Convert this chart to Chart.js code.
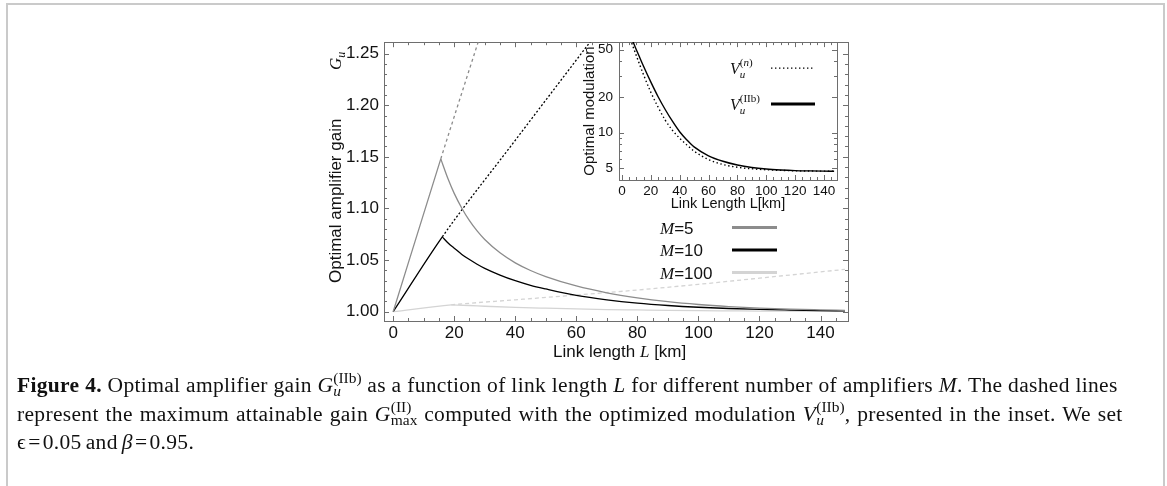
<!DOCTYPE html>
<html>
<head>
<meta charset="utf-8">
<script src="https://cdn.jsdelivr.net/npm/chart.js@4.4.0/dist/chart.umd.min.js"></script>
<style>
  html, body { margin: 0; padding: 0; background: #fff; }
  body { width: 1167px; height: 486px; position: relative; overflow: hidden; }
  #page { position: absolute; left: 6px; top: 3px; width: 1155px; height: 500px;
          border: 2px solid #cacaca; border-bottom: none; }
  #main { position: absolute; left: 300px; top: 27px; }
  #inset { position: absolute; left: 556px; top: 28px; }
  #caption { position: absolute; left: 17px; top: 371px; font-family: "Liberation Serif", serif;
             font-size: 20px; line-height: 28.5px; white-space: nowrap; color: #111;
             letter-spacing: 0.3px; transform: scaleX(1.075); transform-origin: 0 0; }
  #caption .l1 { word-spacing: 0px; }
  #caption .l2 { word-spacing: 1.1px; }
  #caption .l3 { word-spacing: -1.5px; }
  .ss { display: inline-grid; line-height: 1; letter-spacing: 0; }
  .ss > span { grid-area: 1 / 1; font-size: 0.72em; position: relative; }
  .ss .up { top: -0.6em; }
  .ss .dn { top: 0.3em; }
</style>
</head>
<body>
<div id="page"></div>
<canvas id="main" width="560" height="348"></canvas>
<canvas id="inset" width="290" height="188"></canvas>
<div id="caption">
<span class="l1"><b>Figure 4.</b> Optimal amplifier gain <i>G</i><span class="ss"><span class="up">(IIb)</span><span class="dn"><i>u</i></span></span> as a function of link length <i>L</i> for different number of amplifiers <i>M</i>. The dashed lines</span><br>
<span class="l2">represent the maximum attainable gain <i>G</i><span class="ss"><span class="up">(II)</span><span class="dn">max</span></span> computed with the optimized modulation <i>V</i><span class="ss"><span class="up">(IIb)</span><span class="dn"><i>u</i></span></span>, presented in the inset. We set</span><br>
<span class="l3">&#x03F5;&#8202;=&#8202;0.05 and <i>&beta;</i>&#8202;=&#8202;0.95.</span>
</div>
<script>
// maximum attainable gain (dashed), km -> gain
const maxLenM5 = [0, 15.6, 30];
const maxGainM5 = [1.0, 1.148, 1.281];
const maxLenM10 = [0, 16.1, 40, 66];
const maxGainM10 = [1.0, 1.0725, 1.166, 1.267];
const maxLenM100 = [0, 19, 40, 60, 80, 100, 120, 148];
const maxGainM100 = [1.0, 1.0066, 1.0115, 1.0162, 1.021, 1.0265, 1.0325, 1.041];

// optimal gain past the peak (solid)
const gainLenM5 = [15.6, 18, 20, 22.5, 25, 27.5, 30, 35, 40, 45, 50, 60, 70, 80, 90, 100, 110, 120, 130, 140, 148];
const gainM5 = [1.148, 1.1285, 1.1146, 1.1002, 1.0881, 1.0782, 1.0699, 1.057, 1.0473, 1.0399, 1.034, 1.0249, 1.0183, 1.0134, 1.0097, 1.007, 1.005, 1.0035, 1.0025, 1.0018, 1.0013];
const gainLenM10 = [16.1, 18, 20, 22.5, 25, 27.5, 30, 35, 40, 45, 50, 60, 70, 80, 90, 100, 110, 120, 130, 140, 148];
const gainM10 = [1.0725, 1.0665, 1.0615, 1.0555, 1.0505, 1.046, 1.042, 1.0355, 1.030, 1.0255, 1.022, 1.0158, 1.0115, 1.0083, 1.006, 1.0043, 1.0031, 1.0022, 1.0016, 1.0011, 1.0008];
const gainLenM100 = [19, 25, 30, 40, 50, 60, 70, 80, 90, 100, 110, 120, 130, 140, 148];
const gainM100 = [1.0066, 1.006, 1.0053, 1.0042, 1.0034, 1.0027, 1.0021, 1.0017, 1.0013, 1.001, 1.0008, 1.0006, 1.0005, 1.0004, 1.0003];

const xTicks = [0, 20, 40, 60, 80, 100, 120, 140];
const yTicks = [1.00, 1.05, 1.10, 1.15, 1.20, 1.25];

// inset: optimal modulation vs link length
const insetLen = [5, 6, 8, 10, 12, 15, 20, 25, 30, 35, 40, 45, 50, 60, 70, 80, 90, 100, 110, 120, 130, 140, 147];
const modN = [65.9, 60.8, 52.0, 44.6, 38.4, 30.8, 22.0, 16.5, 12.8, 10.5, 9.0, 7.9, 7.0, 5.95, 5.4, 5.12, 4.97, 4.88, 4.82, 4.78, 4.76, 4.75, 4.74];
const modIIb = [70.5, 65.6, 57.2, 50.1, 44.0, 36.3, 26.8, 20.2, 15.7, 12.5, 10.2, 8.7, 7.6, 6.4, 5.75, 5.35, 5.1, 4.95, 4.86, 4.8, 4.77, 4.75, 4.74];
const insetXTicks = [0, 20, 40, 60, 80, 100, 120, 140];
const insetYTicks = [5, 10, 20, 50];

const SANS = 'Liberation Sans';
const SERIF = 'Liberation Serif';
const AXIS = '#6e6e6e';
const minorX = [5, 10, 15, 25, 30, 35, 45, 50, 55, 65, 70, 75, 85, 90, 95, 105, 110, 115, 125, 130, 135, 145];

const pts = (xs, ys) => xs.map((x, i) => ({ x, y: ys[i] }));

// draws a list of text runs [text, font, dy, keep] left to right
function drawRuns(ctx, runs, x, y) {
  let cx = x;
  for (const [text, font, dy, keep] of runs) {
    ctx.font = font;
    ctx.fillText(text, cx, y + (dy || 0));
    if (!keep) cx += ctx.measureText(text).width;
  }
  return cx - x;
}
function runsWidth(ctx, runs) {
  let w = 0;
  for (const [text, font, dy, keep] of runs) {
    ctx.font = font;
    if (!keep) w += ctx.measureText(text).width;
  }
  return w;
}

// frame with inward major/minor ticks on all four sides
const framePlugin = {
  id: 'frame',
  beforeDatasetsDraw(chart, args, o) {
    const { ctx, chartArea: a, scales: { x, y } } = chart;
    ctx.save();
    if (o.fill) {
      ctx.fillStyle = o.fill;
      ctx.fillRect(a.left, a.top, a.right - a.left, a.bottom - a.top);
    }
    ctx.strokeStyle = AXIS;
    ctx.lineWidth = 1;
    ctx.strokeRect(Math.round(a.left) + 0.5, Math.round(a.top) + 0.5,
      Math.round(a.right - a.left), Math.round(a.bottom - a.top));
    ctx.beginPath();
    const mark = (v, len, axis) => {
      if (axis === 'x') {
        const px = Math.round(x.getPixelForValue(v)) + 0.5;
        if (px < a.left || px > a.right) return;
        ctx.moveTo(px, a.bottom); ctx.lineTo(px, a.bottom - len);
        ctx.moveTo(px, a.top); ctx.lineTo(px, a.top + len);
      } else {
        const py = Math.round(y.getPixelForValue(v)) + 0.5;
        if (py < a.top || py > a.bottom) return;
        ctx.moveTo(a.left, py); ctx.lineTo(a.left + len, py);
        ctx.moveTo(a.right, py); ctx.lineTo(a.right - len, py);
      }
    };
    o.xMajor.forEach(v => mark(v, 5, 'x'));
    o.xMinor.forEach(v => mark(v, 3, 'x'));
    o.yMajor.forEach(v => mark(v, 5, 'y'));
    o.yMinor.forEach(v => mark(v, 3, 'y'));
    ctx.stroke();
    ctx.restore();
  }
};

// axis titles and legend with italic math symbols
const mainText = {
  id: 'mainText',
  afterDatasetsDraw(chart) {
    const { ctx, chartArea: a } = chart;
    ctx.save();
    ctx.fillStyle = '#111';
    ctx.textBaseline = 'alphabetic';
    // y title, the symbol sits apart near the top
    ctx.save();
    ctx.translate(a.left - 43, a.bottom - 38);
    ctx.rotate(-Math.PI / 2);
    drawRuns(ctx, [['Optimal amplifier gain', '17px ' + SANS]], 0, 0);
    drawRuns(ctx, [['G', 'italic 17px ' + SERIF], ['u', 'italic 12px ' + SERIF, 4]], 213, 0);
    ctx.restore();
    // x title
    drawRuns(ctx, [
      ['Link length ', '17px ' + SANS],
      ['L', 'italic 17px ' + SERIF],
      [' [km]', '17px ' + SANS]
    ], a.left + 169, a.bottom + 36);
    // legend
    const entries = chart.data.datasets.filter(d => d.legendText);
    entries.forEach((d, i) => {
      const cy = a.bottom - 93.5 + i * 22.5;
      drawRuns(ctx, [['M', 'italic 17px ' + SERIF], [d.legendText, '17px ' + SANS]], a.left + 276, cy + 6);
      ctx.strokeStyle = d.borderColor;
      ctx.lineWidth = 3;
      ctx.beginPath();
      ctx.moveTo(a.left + 348, cy);
      ctx.lineTo(a.left + 393, cy);
      ctx.stroke();
    });
    ctx.restore();
  }
};

const solidFirst = { borderDash: c => (c.p0DataIndex === 0 ? [] : undefined) };

new Chart('main', {
  type: 'line',
  data: {
    datasets: [
      { data: pts(gainLenM5, gainM5), borderColor: '#8c8c8c', borderWidth: 1.3, legendText: '=5' },
      { data: pts(gainLenM10, gainM10), borderColor: '#000000', borderWidth: 1.3, legendText: '=10' },
      { data: pts(gainLenM100, gainM100), borderColor: '#d4d4d4', borderWidth: 1.3, legendText: '=100' },
      { data: pts(maxLenM5, maxGainM5), borderColor: '#8c8c8c', borderWidth: 1.3, borderDash: [3, 3], segment: solidFirst },
      { data: pts(maxLenM10, maxGainM10), borderColor: '#000000', borderWidth: 1.3, borderDash: [2, 2], segment: solidFirst },
      { data: pts(maxLenM100, maxGainM100), borderColor: '#d4d4d4', borderWidth: 1.3, borderDash: [4, 3], segment: solidFirst }
    ]
  },
  options: {
    responsive: false,
    animation: false,
    layout: { padding: { left: 0, top: 12, right: 12, bottom: 0 } },
    elements: { point: { radius: 0 }, line: { cubicInterpolationMode: 'monotone' } },
    plugins: {
      legend: { display: false },
      tooltip: { enabled: false },
      frame: {
        xMajor: xTicks, xMinor: minorX,
        yMajor: yTicks, yMinor: [1.01, 1.02, 1.03, 1.04, 1.06, 1.07, 1.08, 1.09, 1.11, 1.12, 1.13, 1.14, 1.16, 1.17, 1.18, 1.19, 1.21, 1.22, 1.23, 1.24]
      }
    },
    scales: {
      x: {
        type: 'linear', min: -3, max: 149,
        grid: { display: false, drawTicks: false }, border: { display: false },
        afterBuildTicks: s => { s.ticks = xTicks.map(v => ({ value: v })); },
        afterFit: s => { s.height = 54; },
        ticks: { padding: 2, color: '#111', font: { family: SANS, size: 17 }, maxRotation: 0 }
      },
      y: {
        type: 'linear', min: 0.991, max: 1.261,
        grid: { display: false, drawTicks: false }, border: { display: false },
        afterBuildTicks: s => { s.ticks = yTicks.map(v => ({ value: v })); },
        afterFit: s => { s.width = 84; },
        ticks: { padding: 5, color: '#111', font: { family: SANS, size: 17 }, callback: v => v.toFixed(2) }
      }
    }
  },
  plugins: [framePlugin, mainText]
});

const insetText = {
  id: 'insetText',
  afterDatasetsDraw(chart) {
    const { ctx, chartArea: a } = chart;
    ctx.save();
    ctx.fillStyle = '#111';
    // y title
    const yRuns = [['Optimal modulation', '15px ' + SANS]];
    const yw = runsWidth(ctx, yRuns);
    ctx.save();
    ctx.translate(a.left - 25, (a.top + a.bottom) / 2 + yw / 2);
    ctx.rotate(-Math.PI / 2);
    drawRuns(ctx, yRuns, 0, 0);
    ctx.restore();
    // x title
    const xRuns = [['Link Length L[km]', '14.5px ' + SANS]];
    const xw = runsWidth(ctx, xRuns);
    drawRuns(ctx, xRuns, (a.left + a.right) / 2 - xw / 2, a.bottom + 28);
    // legend
    const labels = [
      [['V', 'italic 16px ' + SERIF], ['u', 'italic 11px ' + SERIF, 4, true], ['(', '11px ' + SERIF, -8], ['n', 'italic 11px ' + SERIF, -8], [')', '11px ' + SERIF, -8]],
      [['V', 'italic 16px ' + SERIF], ['u', 'italic 11px ' + SERIF, 4, true], ['(IIb)', '11px ' + SERIF, -8]]
    ];
    chart.data.datasets.forEach((d, i) => {
      const cy = a.top + 26 + i * 36;
      drawRuns(ctx, labels[i], a.left + 111, cy + 6);
      ctx.strokeStyle = '#000';
      ctx.lineWidth = d.legendWidth;
      ctx.setLineDash(d.borderDash || []);
      ctx.beginPath();
      ctx.moveTo(a.left + 152, cy);
      ctx.lineTo(a.left + 196, cy);
      ctx.stroke();
    });
    ctx.restore();
  }
};

new Chart('inset', {
  type: 'line',
  data: {
    datasets: [
      { data: pts(insetLen, modN), borderColor: '#000', borderWidth: 1.4, borderDash: [1.4, 2.6], legendWidth: 1.4 },
      { data: pts(insetLen, modIIb), borderColor: '#000', borderWidth: 1.4, legendWidth: 3 }
    ]
  },
  options: {
    responsive: false,
    animation: false,
    layout: { padding: { left: 0, top: 6, right: 9, bottom: 0 } },
    elements: { point: { radius: 0 }, line: { cubicInterpolationMode: 'monotone' } },
    plugins: {
      legend: { display: false },
      tooltip: { enabled: false },
      frame: {
        fill: '#ffffff',
        xMajor: insetXTicks, xMinor: minorX,
        yMajor: insetYTicks, yMinor: [6, 7, 8, 9, 30, 40]
      }
    },
    scales: {
      x: {
        type: 'linear', min: -2, max: 149,
        grid: { display: false, drawTicks: false }, border: { display: false },
        afterBuildTicks: s => { s.ticks = insetXTicks.map(v => ({ value: v })); },
        afterFit: s => { s.height = 36; },
        ticks: { padding: 3, color: '#111', font: { family: SANS, size: 13.5 }, maxRotation: 0 }
      },
      y: {
        type: 'logarithmic', min: 4.0, max: 58,
        grid: { display: false, drawTicks: false }, border: { display: false },
        afterBuildTicks: s => { s.ticks = insetYTicks.map(v => ({ value: v })); },
        afterFit: s => { s.width = 63; },
        ticks: { padding: 6, color: '#111', font: { family: SANS, size: 13.5 }, callback: v => String(v) }
      }
    }
  },
  plugins: [framePlugin, insetText]
});
</script>
</body>
</html>
